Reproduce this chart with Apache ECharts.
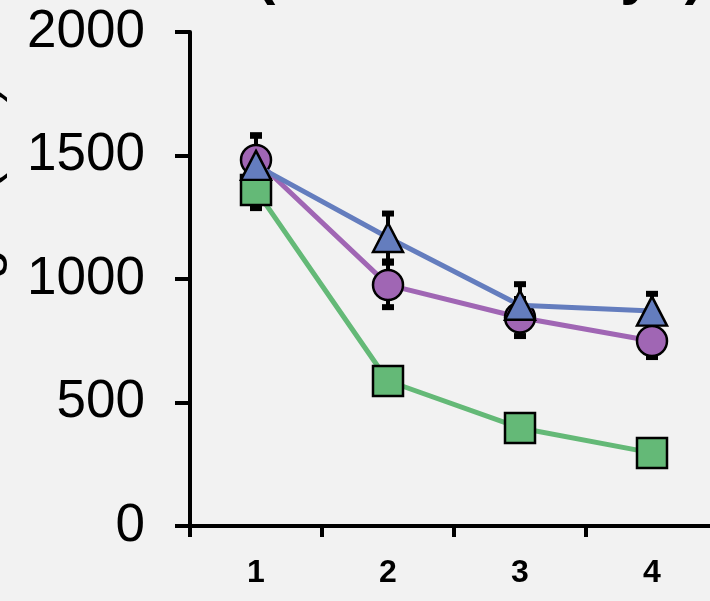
<!DOCTYPE html>
<html>
<head>
<meta charset="utf-8">
<script src="https://cdn.jsdelivr.net/npm/echarts@6/dist/echarts.min.js"></script>
<style>
  html, body { margin: 0; padding: 0; background: #f2f2f2; }
  #chart { width: 710px; height: 601px; }
</style>
</head>
<body>
<div id="chart"></div>
<script>
// Days on the x axis
const days = ['1', '2', '3', '4'];
// Y axis range and ticks
const yMin = 0, yMax = 2000, yStep = 500;

// Group means and their error (±)
const greenMean  = [1360, 587, 397, 296];
const greenErr   = [73, 30, 25, 20];
const purpleMean = [1482, 976, 844, 749];
const purpleErr  = [100, 90, 75, 65];
const blueMean   = [1460, 1168, 894, 870];
const blueErr    = [120, 97, 85, 70];

const GREEN = '#64b977', PURPLE = '#a066b4', BLUE = '#647dbe';
const FONT = 'Liberation Sans, Arial, sans-serif';

function errData(mean, err) {
  return mean.map((m, i) => [i, m - err[i], m + err[i]]);
}

function renderErr(params, api) {
  const lo = api.coord([api.value(0), api.value(1)]);
  const hi = api.coord([api.value(0), api.value(2)]);
  const half = 6;
  const style = { stroke: '#000', lineWidth: 4 };
  const cap = { stroke: '#000', lineWidth: 6 };
  return {
    type: 'group',
    children: [
      { type: 'line', shape: { x1: lo[0], y1: lo[1], x2: hi[0], y2: hi[1] }, style },
      { type: 'line', shape: { x1: hi[0] - half, y1: hi[1], x2: hi[0] + half, y2: hi[1] }, style: cap },
      { type: 'line', shape: { x1: lo[0] - half, y1: lo[1], x2: lo[0] + half, y2: lo[1] }, style: cap }
    ]
  };
}

function errSeries(mean, err, z) {
  return {
    type: 'custom', renderItem: renderErr, data: errData(mean, err),
    encode: { x: 0, y: [1, 2] }, z: z, silent: true
  };
}

function lineSeries(name, data, color, symbol, size, z) {
  return {
    name, type: 'line', data, symbol, symbolSize: size, z,
    lineStyle: { color, width: 5 },
    itemStyle: { color, borderColor: '#000', borderWidth: 2.5 },
    emphasis: { disabled: true }, animation: false
  };
}

const chart = echarts.init(document.getElementById('chart'), null, { renderer: 'canvas' });
chart.setOption({
  backgroundColor: '#f2f2f2',
  animation: false,
  graphic: [{
    type: 'text', left: 256, top: -52,
    style: { text: '(Maze test days)', font: 'bold 58px ' + FONT, fill: '#000' }
  }],
  grid: { left: 190, right: -8, top: 32, bottom: 75, containLabel: false, outerBoundsMode: 'none' },
  xAxis: {
    type: 'category', data: days, boundaryGap: true,
    axisLine: { lineStyle: { color: '#000', width: 4 } },
    axisTick: { show: true, length: 11, lineStyle: { color: '#000', width: 4 } },
    axisLabel: { color: '#000', fontSize: 32, fontWeight: 'bold', fontFamily: FONT, margin: 31 },
    splitLine: { show: false }
  },
  yAxis: {
    type: 'value', min: yMin, max: yMax, interval: yStep,
    name: 'Path length (cm)', nameLocation: 'middle', nameRotate: 90, nameGap: 182,
    nameTextStyle: { fontSize: 53, fontFamily: FONT, color: '#000' },
    axisLine: { show: true, lineStyle: { color: '#000', width: 4 } },
    axisTick: { show: true, length: 15, lineStyle: { color: '#000', width: 4 } },
    axisLabel: { color: '#000', fontSize: 53, fontFamily: FONT, margin: 45,
                 formatter: v => String(v) },
    splitLine: { show: false }
  },
  series: [
    errSeries(greenMean, greenErr, 1),
    errSeries(purpleMean, purpleErr, 1),
    errSeries(blueMean, blueErr, 1),
    lineSeries('green', greenMean, GREEN, 'rect', 30, 2),
    lineSeries('purple', purpleMean, PURPLE, 'circle', 30, 3),
    lineSeries('blue', blueMean, BLUE, 'triangle', [30, 29], 4)
  ]
});
</script>
</body>
</html>
